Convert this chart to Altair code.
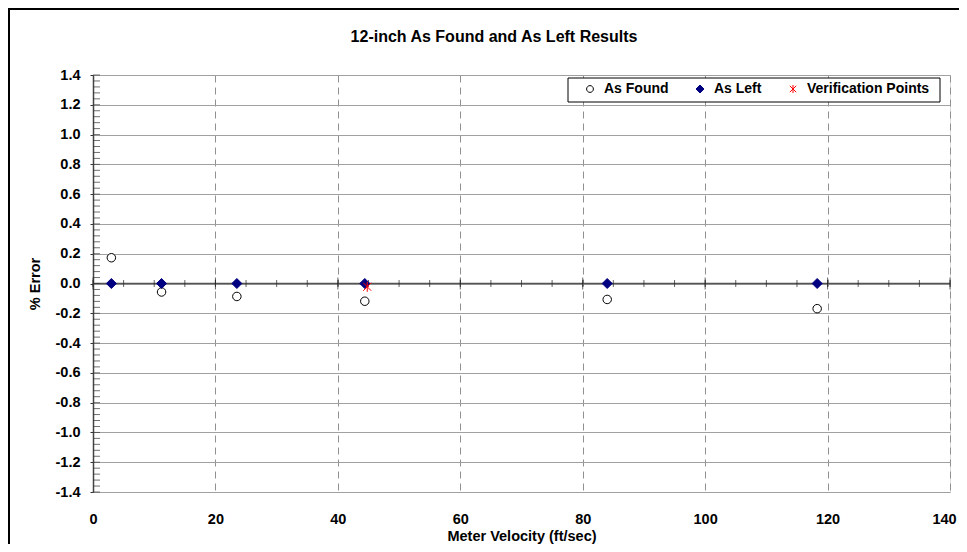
import altair as alt
import pandas as pd

# ---- data ----
velocity = [3.0, 11.2, 23.5, 44.4, 84.0, 118.3]
as_found = [0.173, -0.057, -0.087, -0.119, -0.107, -0.169]
as_left = [0.0, 0.0, 0.0, 0.0, 0.0, 0.0]
verif_velocity = [44.8]
verif_error = [-0.022]

chart_title = ["12-inch As Found and As Left Results"]
series_names = ["As Found", "As Left", "Verification Points"]
x_ticks = [0, 20, 40, 60, 80, 100, 120, 140]
x_minor = [5 * i for i in range(29)]
y_ticks = [-1.4, -1.2, -1.0, -0.8, -0.6, -0.4, -0.2, 0.0, 0.2, 0.4, 0.6, 0.8, 1.0, 1.2, 1.4]
y_minor = [round(-1.4 + 0.04 * i, 2) for i in range(71)]

rows = []
for v, e in zip(velocity, as_found):
    rows.append({"vel": v, "err": e, "series": "As Found"})
for v, e in zip(velocity, as_left):
    rows.append({"vel": v, "err": e, "series": "As Left"})
for v, e in zip(verif_velocity, verif_error):
    rows.append({"vel": v, "err": e, "series": "Verification Points"})
df = pd.DataFrame(rows)

W, H = 857, 417
FONT = "Liberation Sans"
MINUS = "\u2212"
FS = 14.5      # axis labels
FT = 14.5      # axis titles

xs = alt.Scale(domain=[0, 140], nice=False, zero=False)
ys = alt.Scale(domain=[-1.4, 1.4], nice=False, zero=False)
label_expr = "replace(format(datum.value, '.1f'), '" + MINUS + "', '-')"

X = alt.X(
    "vel:Q", scale=xs,
    axis=alt.Axis(
        values=x_ticks, title="Meter Velocity (ft/sec)", labelFont=FONT, labelFontSize=FS,
        labelFontWeight="bold", labelColor="black", ticks=False, domain=False,
        labelFlush=False, labelOverlap=False, labelBaseline="alphabetic",
        labelOffset={"condition": {"test": "datum.value == 140", "value": -6}, "value": 0},
        labelPadding=31, grid=True, gridDash=[7, 5], gridColor="#909090", gridWidth=1,
        titleFont=FONT, titleFontSize=FT, titleFontWeight="bold", titleColor="black",
        titleY=48, titleBaseline="alphabetic",
    ),
)
Y = alt.Y(
    "err:Q", scale=ys,
    axis=alt.Axis(
        values=y_ticks, labelExpr=label_expr, title="% Error", labelFont=FONT,
        labelFontSize=FS, labelFontWeight="bold", labelColor="black", tickSize=3,
        labelFlush=False, labelOverlap=False,
        tickColor="#333333", domainColor="#444444", domainWidth=1.5, labelPadding=10,
        grid=True, gridColor="#a0a0a0", gridWidth=1, titleFont=FONT, titleFontSize=FT,
        titleFontWeight="bold", titleColor="black", titleX=-51, titleY=H / 2,
    ),
)

CIRCLE = "M0.85,0A0.85,0.85,0,1,1,-0.85,0A0.85,0.85,0,1,1,0.85,0Z"
DIAMOND = "M-1,0L0,-1L1,0L0,1Z"
STAR = "M-0.8,-0.8L0.8,0.8M0.8,-0.8L-0.8,0.8M0,-1L0,1"

leg = dict(
    title=None, orient="none", legendX=490, legendY=7, direction="horizontal",
    columns=3, labelFont=FONT, labelFontSize=14, labelFontWeight="bold",
    labelColor="black", symbolSize=64, symbolStrokeWidth=1, columnPadding=24,
    labelOffset=7, padding=0,
)

one = alt.Data(values=[{"vel": 0, "err": 0}])

# outer chart border (decoration)
border = alt.Chart(one).mark_rect(fill="white", fillOpacity=0, stroke="black", strokeWidth=2).encode(
    x=alt.value(-84), x2=alt.value(W + 200), y=alt.value(-66), y2=alt.value(H + 200)
)

title_layer = alt.Chart(pd.DataFrame({"t": chart_title})).mark_text(
    font=FONT, fontSize=16, fontWeight="bold", color="black", align="center", baseline="alphabetic"
).encode(text="t:N", x=alt.value(401), y=alt.value(-33.5))

# legend box (decoration)
legbox = alt.Chart(one).mark_rect(fill="white", stroke="black", strokeWidth=1).encode(
    x=alt.value(475), x2=alt.value(847), y=alt.value(3), y2=alt.value(27)
)

zero_line = alt.Chart(one).mark_rule(color="#555555", strokeWidth=1.5).encode(
    y=Y, x=alt.value(0), x2=alt.value(W)
)

xmaj = alt.Chart(pd.DataFrame({"vel": x_ticks, "err": [0.0] * len(x_ticks)})).mark_tick(
    orient="vertical", size=12, thickness=1, color="#222222"
).encode(x=X, y=Y)

xmin = alt.Chart(pd.DataFrame({"vel": x_minor, "err": [0.0] * len(x_minor)})).mark_tick(
    orient="vertical", size=7, thickness=1, color="#222222"
).encode(x=X, y=Y)

ymin = alt.Chart(pd.DataFrame({"vel": [0.0] * len(y_minor), "err": y_minor})).mark_tick(
    orient="horizontal", size=7, thickness=1, color="#333333", xOffset=3.5
).encode(x=X, y=Y)

points = alt.Chart(df).mark_point(strokeWidth=1, opacity=1, size=100).encode(
    x=X,
    y=Y,
    shape=alt.Shape("series:N", scale=alt.Scale(domain=series_names, range=[CIRCLE, DIAMOND, STAR]), legend=alt.Legend(**leg)),
    fill=alt.Fill("series:N", scale=alt.Scale(domain=series_names, range=["white", "#000080", "transparent"]), legend=alt.Legend(**leg)),
    stroke=alt.Stroke("series:N", scale=alt.Scale(domain=series_names, range=["black", "#000080", "red"]), legend=alt.Legend(**leg)),
)

chart = alt.layer(border, title_layer, legbox, zero_line, xmin, xmaj, ymin, points).properties(
    width=W, height=H,
    autosize=alt.AutoSizeParams(type="none"),
    padding={"left": 85, "top": 67, "right": 9, "bottom": 52},
).configure_view(stroke="#a0a0a0", strokeWidth=1).configure(font=FONT)

chart.save("out.html", embed_options={"renderer": "svg", "actions": False})
